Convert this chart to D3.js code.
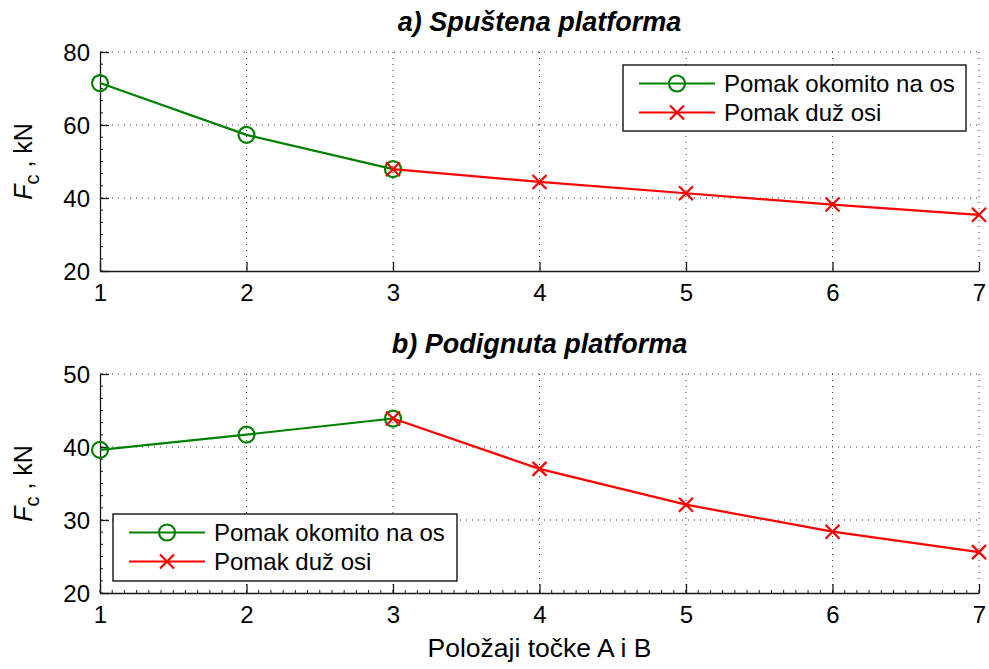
<!DOCTYPE html>
<html>
<head>
<meta charset="utf-8">
<script src="https://cdn.jsdelivr.net/npm/d3@7"></script>
<style>
  html, body { margin: 0; padding: 0; background: #fff; }
  svg { display: block; font-family: "Liberation Sans", Arial, Helvetica, sans-serif; }
</style>
</head>
<body>
<svg id="chart" width="989" height="669"></svg>
<script>
// Positions of points A and B along the platform
const positions = [1, 2, 3, 4, 5, 6, 7];
const xTicks = [1, 2, 3, 4, 5, 6, 7];

// a) lowered platform
const loweredPerp = [71.5, 57.3, 47.9];                       // positions 1..3
const loweredAlong = [47.9, 44.4, 41.3, 38.2, 35.4];          // positions 3..7
const loweredYTicks = [20, 40, 60, 80];

// b) raised platform
const raisedPerp = [39.6, 41.7, 43.9];                        // positions 1..3
const raisedAlong = [43.9, 37.0, 32.1, 28.4, 25.6];           // positions 3..7
const raisedYTicks = [20, 30, 40, 50];

const seriesNames = ["Pomak okomito na os", "Pomak duž osi"];
const titles = ["a) Spuštena platforma", "b) Podignuta platforma"];
const xLabel = "Položaji točke A i B";

const GREEN = "#008000", RED = "#ff0000", AXIS = "#1a1a1a";
const svg = d3.select("#chart");

const left = 100, right = 979;
const x = d3.scaleLinear().domain([1, 7]).range([left, right]);

function panel(cfg) {
  const y = d3.scaleLinear().domain(cfg.yDomain).range([cfg.bottom, cfg.top]);
  const g = svg.append("g");

  // dotted grid
  g.selectAll(".gx").data(xTicks.filter(d => d > 1)).enter().append("line")
    .attr("x1", d => x(d)).attr("x2", d => x(d))
    .attr("y1", cfg.top).attr("y2", cfg.bottom)
    .attr("stroke", "#333").attr("stroke-width", 1).attr("stroke-dasharray", "1,5");
  g.selectAll(".gy").data(cfg.yTicks.filter(d => d > cfg.yDomain[0])).enter().append("line")
    .attr("x1", left).attr("x2", right)
    .attr("y1", d => y(d)).attr("y2", d => y(d))
    .attr("stroke", "#333").attr("stroke-width", 1).attr("stroke-dasharray", "1,5");

  // minor ticks on y axis
  const yMinor = d3.range(cfg.yDomain[0], cfg.yDomain[1] + 1e-9, (cfg.yTicks[1] - cfg.yTicks[0]) / 6);
  g.selectAll(".my").data(yMinor).enter().append("line")
    .attr("x1", left).attr("x2", left + 3)
    .attr("y1", d => y(d)).attr("y2", d => y(d))
    .attr("stroke", AXIS).attr("stroke-width", 1);
  if (cfg.xMinor) {
    const xMinor = d3.range(1, 7 + 1e-9, 1 / 12);
    g.selectAll(".mx").data(xMinor).enter().append("line")
      .attr("x1", d => x(d)).attr("x2", d => x(d))
      .attr("y1", cfg.bottom).attr("y2", cfg.bottom - 3)
      .attr("stroke", AXIS).attr("stroke-width", 1);
  }

  // axes with inward ticks
  const yAxis = d3.axisLeft(y).tickValues(cfg.yTicks).tickFormat(d3.format("d"))
    .tickSize(-9).tickPadding(10).tickSizeOuter(0);
  const xAxis = d3.axisBottom(x).tickValues(xTicks).tickFormat(d3.format("d"))
    .tickSize(-9).tickPadding(13).tickSizeOuter(0);
  const ya = g.append("g").attr("transform", `translate(${left},0)`).call(yAxis);
  const xa = g.append("g").attr("transform", `translate(0,${cfg.bottom})`).call(xAxis);
  [ya, xa].forEach(a => {
    a.select(".domain").attr("stroke", AXIS).attr("stroke-width", 1.3);
    a.selectAll(".tick line").attr("stroke", AXIS).attr("stroke-width", 1.3);
    a.selectAll(".tick text").attr("fill", "#000").style("font-size", "24px")
      .style("font-family", '"Liberation Sans", Arial, sans-serif');
  });
  xa.selectAll(".tick text").attr("dy", "0.71em");
  ya.selectAll(".tick text").attr("dy", "0.36em");

  // title
  g.append("text").attr("x", (left + right) / 2).attr("y", cfg.top - 21)
    .attr("text-anchor", "middle").style("font-size", "27px")
    .style("font-weight", "bold").style("font-style", "italic").text(cfg.title);

  // y label: F_c , kN
  const yl = g.append("text")
    .attr("transform", `translate(32,${(cfg.top + cfg.bottom) / 2}) rotate(-90)`)
    .attr("text-anchor", "middle").style("font-size", "25px");
  yl.append("tspan").style("font-style", "italic").text("F");
  yl.append("tspan").attr("dy", 7).style("font-size", "20px").text("c");
  yl.append("tspan").attr("dy", -7).text(" , kN");

  // series
  const line = d3.line().x(d => x(d[0])).y(d => y(d[1]));
  const perp = cfg.perp.map((v, i) => [positions[i], v]);
  const along = cfg.along.map((v, i) => [positions[i + 2], v]);

  g.append("path").datum(perp).attr("d", line)
    .attr("fill", "none").attr("stroke", GREEN).attr("stroke-width", 2.2);
  g.selectAll(".circ").data(perp).enter().append("circle")
    .attr("cx", d => x(d[0])).attr("cy", d => y(d[1])).attr("r", 8)
    .attr("fill", "none").attr("stroke", GREEN).attr("stroke-width", 2.2);

  g.append("path").datum(along).attr("d", line)
    .attr("fill", "none").attr("stroke", RED).attr("stroke-width", 2.2);
  g.selectAll(".xm").data(along).enter().append("path")
    .attr("transform", d => `translate(${x(d[0])},${y(d[1])})`)
    .attr("d", "M-7,-7L7,7M-7,7L7,-7")
    .attr("stroke", RED).attr("stroke-width", 2.2).attr("fill", "none");

  // legend
  const L = cfg.legend;
  const lg = g.append("g").attr("transform", `translate(${L.x},${L.y})`);
  lg.append("rect").attr("width", L.w).attr("height", L.h)
    .attr("fill", "#fff").attr("stroke", "#000").attr("stroke-width", 1.3);
  const rows = [
    { name: seriesNames[0], color: GREEN, marker: "circle", dy: 18.5 },
    { name: seriesNames[1], color: RED, marker: "x", dy: 47.5 }
  ];
  rows.forEach(r => {
    lg.append("line").attr("x1", 16).attr("x2", 92).attr("y1", r.dy).attr("y2", r.dy)
      .attr("stroke", r.color).attr("stroke-width", 2.2);
    if (r.marker === "circle") {
      lg.append("circle").attr("cx", 54).attr("cy", r.dy).attr("r", 8)
        .attr("fill", "none").attr("stroke", r.color).attr("stroke-width", 2.2);
    } else {
      lg.append("path").attr("transform", `translate(54,${r.dy})`)
        .attr("d", "M-7,-7L7,7M-7,7L7,-7").attr("stroke", r.color).attr("stroke-width", 2.2);
    }
    lg.append("text").attr("x", 101).attr("y", r.dy).attr("dy", "0.36em")
      .style("font-size", "24px").text(r.name);
  });
}

panel({
  top: 52, bottom: 271, yDomain: [20, 80], yTicks: loweredYTicks,
  perp: loweredPerp, along: loweredAlong, title: titles[0], xMinor: false,
  legend: { x: 623, y: 65, w: 343, h: 66 }
});
panel({
  top: 374, bottom: 593, yDomain: [20, 50], yTicks: raisedYTicks,
  perp: raisedPerp, along: raisedAlong, title: titles[1], xMinor: true,
  legend: { x: 113, y: 514, w: 344, h: 67 }
});

svg.append("text").attr("x", (left + right) / 2).attr("y", 657)
  .attr("text-anchor", "middle").style("font-size", "26.5px").text(xLabel);
</script>
</body>
</html>
